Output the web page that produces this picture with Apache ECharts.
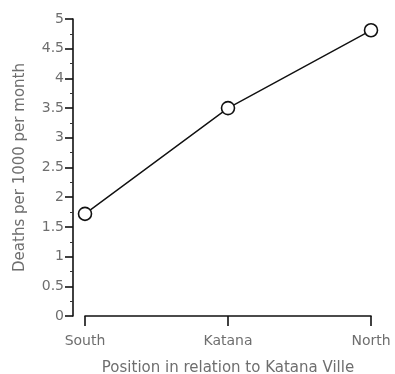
<!DOCTYPE html>
<html><head><meta charset="utf-8">
<script src="https://cdn.jsdelivr.net/npm/echarts@6/dist/echarts.min.js"></script>
<style>html,body{margin:0;padding:0;background:#fff}#c{width:395px;height:374px}</style>
</head><body><div id="c"></div>
<script>
const categories = ["South", "Katana", "North"];
const deaths = [1.72, 3.5, 4.81];
const yTicks = [0, 0.5, 1, 1.5, 2, 2.5, 3, 3.5, 4, 4.5, 5];

const chart = echarts.init(document.getElementById('c'));
const txt = {color: '#6e6e6e', fontFamily: 'DejaVu Sans, Verdana, sans-serif', fontSize: 14};
chart.setOption({
  animation: false,
  grid: {left: 85, right: 24, top: 19, bottom: 58, containLabel: false, outerBoundsMode: 'none'},
  xAxis: {
    type: 'category', data: categories, boundaryGap: false, offset: 6,
    name: 'Position in relation to Katana Ville', nameLocation: 'middle', nameGap: 39,
    nameTextStyle: Object.assign({}, txt, {fontSize: 15}),
    axisLine: {lineStyle: {color: '#111', width: 1.6}},
    axisTick: {length: 10, lineStyle: {color: '#111', width: 1.6}},
    axisLabel: Object.assign({}, txt, {margin: 12}),
    splitLine: {show: false}
  },
  yAxis: {
    type: 'value', min: 0, max: 5, interval: 0.5, offset: 12,
    name: 'Deaths per 1000 per month', nameLocation: 'middle', nameGap: 45,
    nameTextStyle: Object.assign({}, txt, {fontSize: 15}),
    axisLine: {show: true, lineStyle: {color: '#111', width: 1.6}},
    axisTick: {show: true, length: 8, lineStyle: {color: '#111', width: 1.6}},
    minorTick: {show: true, splitNumber: 2, length: 3, lineStyle: {color: '#333', width: 1}},
    axisLabel: Object.assign({}, txt, {margin: 9, formatter: v => yTicks.includes(v) ? String(v) : ''}),
    splitLine: {show: false}
  },
  series: [{
    type: 'line', data: deaths, symbol: 'circle', symbolSize: 13,
    lineStyle: {color: '#111', width: 1.4},
    itemStyle: {color: '#fff', borderColor: '#111', borderWidth: 1.6}
  }]
});
</script></body></html>
